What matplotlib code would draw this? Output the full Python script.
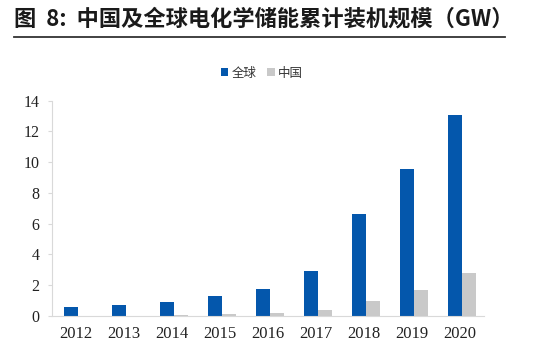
import matplotlib
matplotlib.use("Agg")
import matplotlib.pyplot as plt
import numpy as np
from matplotlib.lines import Line2D

years = ["2012", "2013", "2014", "2015", "2016", "2017", "2018", "2019", "2020"]
global_gw = [0.6, 0.7, 0.93, 1.28, 1.78, 2.93, 6.64, 9.55, 13.1]
china_gw = [0.02, 0.03, 0.08, 0.12, 0.2, 0.39, 1.0, 1.7, 2.82]
series_names = ["全球", "中国"]
title = "图  8:  中国及全球电化学储能累计装机规模（GW）"

W, H = 533, 355
fig = plt.figure(figsize=(W / 100, H / 100), dpi=100)

cjk = ["Noto Sans CJK SC", "DejaVu Sans"]
serif = ["Liberation Serif", "DejaVu Serif"]

fig.text(14 / W, 1 - 19 / H, title, family=cjk, fontsize=16, fontweight="bold",
         va="center", ha="left", color="#1a1a1a")
fig.add_artist(Line2D([14 / W, 505 / W], [1 - 37 / H, 1 - 37 / H], color="#333333", lw=1.3))

ax = fig.add_axes([52 / W, 1 - 316 / H, (484 - 52) / W, (316 - 100.7) / H])
x = np.arange(len(years))
bw = 0.29
blue = "#0457AC"
grey = "#C9C9C9"
b1 = ax.bar(x - bw / 2 + 0.04, global_gw, bw, color=blue, label=series_names[0])
b2 = ax.bar(x + bw / 2 + 0.04, china_gw, bw, color=grey, label=series_names[1])

ax.set_xlim(-0.5, len(years) - 0.5)
ax.set_ylim(0, 14)
ax.set_yticks(np.arange(0, 15, 2))
ax.set_xticks(x)
ax.set_xticklabels(years)
for s in ["top", "right"]:
    ax.spines[s].set_visible(False)
ax.spines["left"].set_color("#D9D9D9")
ax.spines["bottom"].set_color("#D9D9D9")
ax.tick_params(axis="y", length=3, color="#D9D9D9", labelsize=11.5, pad=6)
ax.tick_params(axis="x", length=0, labelsize=12, pad=7)
for lab in ax.get_xticklabels() + ax.get_yticklabels():
    lab.set_family(serif)
    lab.set_color("#222222")

leg = fig.legend(handles=[b1, b2], labels=series_names, loc="center",
                 bbox_to_anchor=(262 / W, 1 - 73 / H), ncol=2, frameon=False,
                 prop={"family": cjk, "size": 9}, handlelength=0.6, handleheight=0.6,
                 handletextpad=0.3, columnspacing=0.8)
for t in leg.get_texts():
    t.set_color("#333333")

fig.savefig("out.png", dpi=100)
